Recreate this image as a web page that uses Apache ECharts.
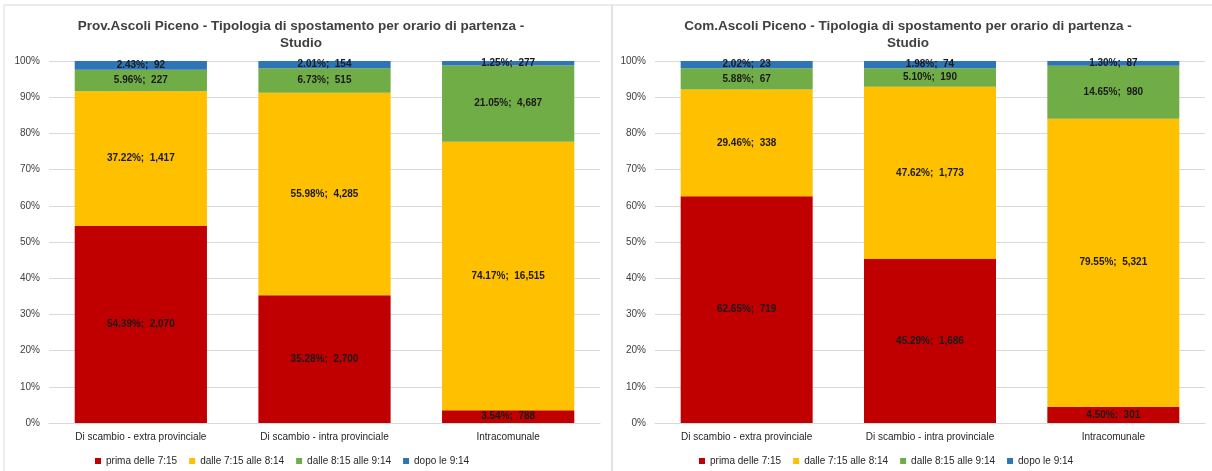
<!DOCTYPE html>
<html>
<head>
<meta charset="utf-8">
<script src="https://cdn.jsdelivr.net/npm/echarts@6/dist/echarts.min.js"></script>
<style>
  html, body { margin: 0; padding: 0; background: #fff; }
  #main { width: 1212px; height: 471px; }
</style>
</head>
<body>
<div id="main"></div>
<script>
/* categorie e fasce orarie */
var categories = ['Di scambio - extra provinciale', 'Di scambio - intra provinciale', 'Intracomunale'];
var fasce = ['prima delle 7:15', 'dalle 7:15 alle 8:14', 'dalle 8:15 alle 9:14', 'dopo le 9:14'];
var colori = ['#c00000', '#ffc000', '#70ad47', '#2e75b6'];
var yTicks = [0, 10, 20, 30, 40, 50, 60, 70, 80, 90, 100];

/* Prov. Ascoli Piceno - percentuali e valori */
var provPrima = [54.39, 35.28, 3.54];
var provPrimaN = [2070, 2700, 788];
var prov715 = [37.22, 55.98, 74.17];
var prov715N = [1417, 4285, 16515];
var prov815 = [5.96, 6.73, 21.05];
var prov815N = [227, 515, 4687];
var provDopo = [2.43, 2.01, 1.25];
var provDopoN = [92, 154, 277];

/* Com. Ascoli Piceno - percentuali e valori */
var comPrima = [62.65, 45.29, 4.50];
var comPrimaN = [719, 1686, 301];
var com715 = [29.46, 47.62, 79.55];
var com715N = [338, 1773, 5321];
var com815 = [5.88, 5.10, 14.65];
var com815N = [67, 190, 980];
var comDopo = [2.02, 1.98, 1.30];
var comDopoN = [23, 74, 87];

var FONT = 'Liberation Sans';

function serie(nome, pct, num, idx, colore) {
    return {
        name: nome,
        type: 'bar',
        stack: 'tot' + idx,
        xAxisIndex: idx,
        yAxisIndex: idx,
        barCategoryGap: '28%',
        itemStyle: { color: colore },
        label: {
            show: true,
            position: 'inside',
            fontFamily: FONT,
            fontSize: 10,
            fontWeight: 'bold',
            color: '#1a1a1a',
            formatter: function (p) {
                return pct[p.dataIndex].toFixed(2) + '%;  ' + num[p.dataIndex].toLocaleString('en-US');
            }
        },
        data: pct
    };
}

function asseX(idx) {
    return {
        type: 'category', gridIndex: idx, data: categories,
        axisLine: { lineStyle: { color: '#d9d9d9' } },
        axisTick: { show: false },
        axisLabel: { fontFamily: FONT, fontSize: 10, color: '#262626', margin: 9 }
    };
}

function asseY(idx) {
    return {
        type: 'value', gridIndex: idx, min: yTicks[0], max: yTicks[yTicks.length - 1], interval: 10,
        axisLine: { show: false },
        axisTick: { show: false },
        splitLine: { lineStyle: { color: '#d9d9d9' } },
        axisLabel: { fontFamily: FONT, fontSize: 10, color: '#404040', margin: 9, formatter: '{value}%' }
    };
}

var myChart = echarts.init(document.getElementById('main'));
var option = {
    animation: false,
    color: colori,
    graphic: [
        { type: 'rect', shape: { x: 4, y: 5, width: 608, height: 480 }, style: { fill: 'none', stroke: '#d9d9d9', lineWidth: 1 } },
        { type: 'rect', shape: { x: 612, y: 5, width: 620, height: 480 }, style: { fill: 'none', stroke: '#d9d9d9', lineWidth: 1 } }
    ],
    title: [
        {
            text: 'Prov.Ascoli Piceno - Tipologia di spostamento per orario di partenza -\nStudio',
            left: 296, top: 13, textAlign: 'center',
            textStyle: { fontFamily: FONT, fontSize: 13.5, fontWeight: 'bold', color: '#404040', lineHeight: 17 }
        },
        {
            text: 'Com.Ascoli Piceno - Tipologia di spostamento per orario di partenza -\nStudio',
            left: 903, top: 13, textAlign: 'center',
            textStyle: { fontFamily: FONT, fontSize: 13.5, fontWeight: 'bold', color: '#404040', lineHeight: 17 }
        }
    ],
    legend: [
        {
            data: fasce, left: 90, top: 451, icon: 'rect', itemWidth: 6, itemHeight: 6, itemGap: 12,
            textStyle: { fontFamily: FONT, fontSize: 10, color: '#262626' }
        },
        {
            data: fasce, left: 694, top: 451, icon: 'rect', itemWidth: 6, itemHeight: 6, itemGap: 12,
            textStyle: { fontFamily: FONT, fontSize: 10, color: '#262626' }
        }
    ],
    grid: [
        { left: 49, right: 612, top: 61, bottom: 48 },
        { left: 655, right: 7, top: 61, bottom: 48 }
    ],
    xAxis: [asseX(0), asseX(1)],
    yAxis: [asseY(0), asseY(1)],
    series: [
        serie(fasce[0], provPrima, provPrimaN, 0, colori[0]),
        serie(fasce[1], prov715, prov715N, 0, colori[1]),
        serie(fasce[2], prov815, prov815N, 0, colori[2]),
        serie(fasce[3], provDopo, provDopoN, 0, colori[3]),
        serie(fasce[0], comPrima, comPrimaN, 1, colori[0]),
        serie(fasce[1], com715, com715N, 1, colori[1]),
        serie(fasce[2], com815, com815N, 1, colori[2]),
        serie(fasce[3], comDopo, comDopoN, 1, colori[3])
    ]
};
myChart.setOption(option);
</script>
</body>
</html>
